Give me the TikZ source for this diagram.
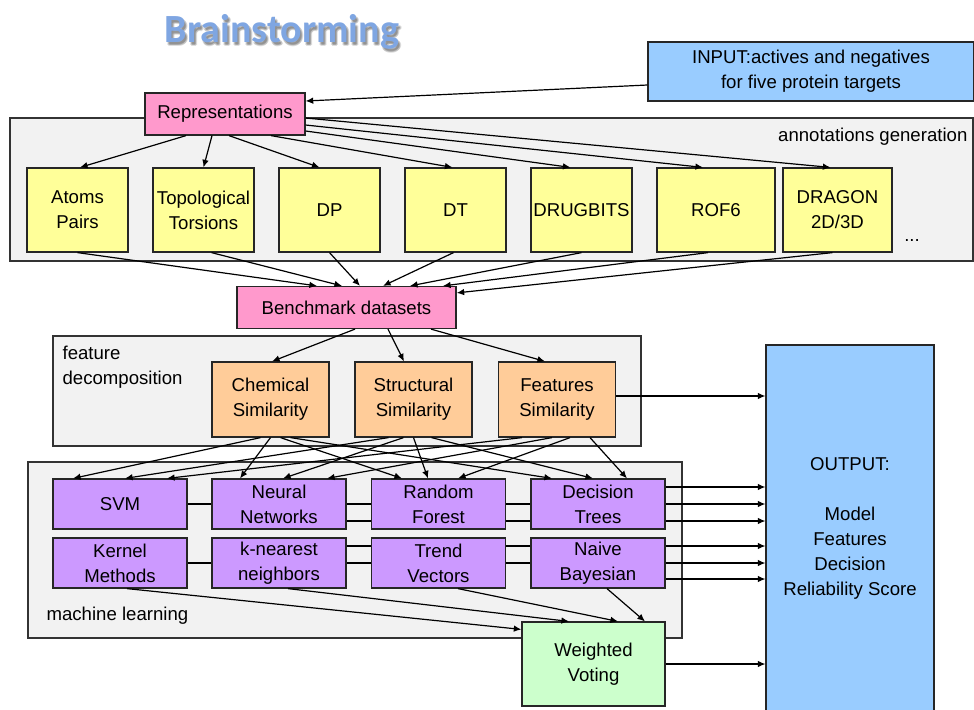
\documentclass[tikz,border=0pt]{standalone}
\usepackage{fontspec}
\setmainfont{Liberation Sans}
\newfontfamily\titlefont{Carlito}
\usepackage{tikz}
\usetikzlibrary{
    arrows.meta,
    positioning,
    calc,
    backgrounds
}
\definecolor{pinkbox}{HTML}{FF99CC}
\definecolor{bluebox}{HTML}{99CCFF}
\definecolor{yellowbox}{HTML}{FFFF99}
\definecolor{orangebox}{HTML}{FFCC99}
\definecolor{purplebox}{HTML}{CC99FF}
\definecolor{greenbox}{HTML}{CCFFCC}
\definecolor{panelgray}{HTML}{F2F2F2}
\definecolor{titleblue}{HTML}{7FA6E2}
\pgfdeclarelayer{wires}
\pgfsetlayers{background,wires,main}

\begin{document}
\begin{tikzpicture}[x=0.5pt,y=-0.5pt,
   every node/.style={font=\fontsize{9.3}{12.5}\selectfont,inner sep=0pt},
   blk/.style={draw=black!85,line width=0.6pt,align=center},
   panel/.style={draw=black!80,line width=0.6pt,fill=panelgray},
   yel/.style={blk,fill=yellowbox,minimum width=50.5pt,minimum height=42pt},
   orn/.style={blk,fill=orangebox,minimum width=58.5pt,minimum height=37.5pt},
   ml/.style={blk,fill=purplebox,minimum width=67pt,minimum height=25pt},
   arr/.style={-{Latex[length=3.8pt,width=3.3pt]}},
   every path/.style={line width=0.6pt}]
  \useasboundingbox (0,0) rectangle (974,709);
  % title with soft shadow
  \foreach \dx/\dy in {1/3,2/4,3/3,2/2}
    \node[font=\titlefont\bfseries\fontsize{20}{24}\selectfont,text=black,opacity=0.13]
      (shd-\dx-\dy) at (282+\dx,32+\dy) {Brainstorming};
  \node[font=\titlefont\bfseries\fontsize{20}{24}\selectfont,text=titleblue](title) at (282,32){Brainstorming};
  % panels
  \begin{scope}[on background layer]
    \node[panel,minimum width=481.5pt,minimum height=71.5pt](annp) at (491.5,189.5){};
    \node[panel,minimum width=294pt,minimum height=55pt](featp) at (347,391){};
    \node[panel,minimum width=327pt,minimum height=88pt](mlp) at (355,550){};
  \end{scope}
  \node[anchor=east](anntxt) at (968,137){annotations generation};
  \node[anchor=west,align=left](fdtxt) at (62,367.5){feature\\decomposition};
  \node[anchor=west](mltxt) at (46,616){machine learning};
  % input and representations
  \node[blk,fill=bluebox,minimum width=163pt,minimum height=29.5pt](inp) at (811,71.5){INPUT:actives and negatives\\for five protein targets};
  \node[blk,fill=pinkbox,minimum width=80pt,minimum height=21pt](rep) at (225,114){Representations};
  % annotations
  \node[yel](atoms) at (77.5,210){Atoms\\Pairs};
  \node[yel](topo) at (203.5,210){Topological\\Torsions};
  \node[yel](dp) at (329.5,210){DP};
  \node[yel](dt) at (455.5,210){DT};
  \node[yel](drug) at (581.5,210){DRUGBITS};
  \node[yel,minimum width=59pt](rof) at (716,210){ROF6};
  \node[yel,minimum width=54.5pt](dragon) at (837.5,210){DRAGON\\2D/3D};
  \node(more) at (912,240){...};
  \node[blk,fill=pinkbox,minimum width=109.5pt,minimum height=21pt](bench) at (346.5,307.5){Benchmark datasets};
  % feature decomposition
  \node[orn](chem) at (270.5,399.5){Chemical\\Similarity};
  \node[orn](struc) at (413.5,399.5){Structural\\Similarity};
  \node[orn](feat) at (557,399.5){Features\\Similarity};
  % machine learning
  \node[ml](svm) at (120,504){SVM};        \node[ml](nn) at (279,504){Neural\\Networks};
  \node[ml](rf) at (438.5,504){Random\\Forest}; \node[ml](dec) at (598,504){Decision\\Trees};
  \node[ml](kern) at (120,563){Kernel\\Methods}; \node[ml](knn) at (279,563){k-nearest\\neighbors};
  \node[ml](trend) at (438.5,563){Trend\\Vectors}; \node[ml](nb) at (598,563){Naive\\Bayesian};
  \node[blk,fill=greenbox,minimum width=71.5pt,minimum height=42pt](wv) at (593.5,664){Weighted\\Voting};
  \node[blk,fill=bluebox,minimum width=84pt,minimum height=183.5pt](out) at (850,528.5)
    {OUTPUT:\\[12.5pt]Model\\Features\\Decision\\Reliability Score};
  % input -> representations -> annotations
  \draw[arr] ($(inp.west)+(0,13.5)$) -- ($(rep.east)+(0,-13)$);
  \draw[arr] ($(rep.south)+(-39,0)$) -- ($(atoms.north)+(2.5,0)$);
  \draw[arr] ($(rep.south)+(-13,0)$) -- (topo.north);
  \draw[arr] ($(rep.south)+(4,0)$) -- ($(dp.north)+(-10,0)$);
  \draw[arr] ($(rep.south)+(46,0)$) -- ($(dt.north)+(-3,0)$);
  \draw[arr] ($(rep.east)+(0,17)$) -- ($(drug.north)+(-11,0)$);
  \draw[arr] ($(rep.east)+(0,11)$) -- ($(rof.north)+(-13,0)$);
  \draw[arr] ($(rep.east)+(0,4)$) -- ($(dragon.north)+(-7,0)$);
  % annotations -> benchmark
  \draw[arr] (atoms.south) -- ($(bench.north)+(-29.5,0)$);
  \draw[arr] ($(topo.south)+(8,0)$) -- ($(bench.north)+(-4.5,0)$);
  \draw[arr] (dp.south) -- ($(bench.north)+(13.5,0)$);
  \draw[arr] ($(dt.south)+(-2,0)$) -- ($(bench.north)+(36.5,0)$);
  \draw[arr] (drug.south) -- ($(bench.north)+(63.5,0)$);
  \draw[arr] ($(rof.south)+(-8,0)$) -- ($(bench.north)+(96.5,0)$);
  \draw[arr] ($(dragon.south)+(-5,0)$) -- ($(bench.north east)+(0,7)$);
  % benchmark -> similarities
  \draw[arr] ($(bench.south)+(8.5,0)$) -- ($(chem.north)+(1.5,0)$);
  \draw[arr] ($(bench.south)+(41.5,0)$) -- ($(struc.north)+(-9.5,0)$);
  \draw[arr] ($(bench.south)+(84.5,0)$) -- ($(feat.north)+(-12,0)$);
  % similarities -> learners
  \draw[arr] ($(chem.south)+(-10,0)$) -- ($(svm.north)+(-47,0)$);
  \draw[arr] (chem.south) -- ($(nn.north)+(-39,0)$);
  \draw[arr] ($(chem.south)+(10,0)$) -- ($(rf.north)+(-36.5,0)$);
  \draw[arr] ($(chem.south)+(20,0)$) -- ($(dec.north)+(-46,0)$);
  \draw[arr] ($(struc.south)+(-25,0)$) -- ($(svm.north)+(5,0)$);
  \draw[arr] ($(struc.south)+(-10,0)$) -- ($(nn.north)+(4,0)$);
  \draw[arr] (struc.south) -- ($(rf.north)+(-10.5,0)$);
  \draw[arr] ($(struc.south)+(18,0)$) -- ($(dec.north)+(-5,0)$);
  \draw[arr] ($(feat.south)+(-35,0)$) -- ($(svm.north)+(47,0)$);
  \draw[arr] ($(feat.south)+(-5,0)$) -- ($(nn.north)+(48,0)$);
  \draw[arr] ($(feat.south)+(13,0)$) -- ($(rf.north)+(19.5,0)$);
  \draw[arr] ($(feat.south)+(33,0)$) -- ($(dec.north)+(29,0)$);
  % learners -> weighted voting
  \draw[arr] ($(kern.south)+(7,0)$) -- ($(wv.north west)+(0,8)$);
  \draw[arr] ($(knn.south)+(9,0)$) -- ($(wv.north)+(-24.5,0)$);
  \draw[arr] ($(trend.south)+(19.5,0)$) -- ($(wv.north)+(24.5,0)$);
  \draw[arr] ($(nb.south)+(9,0)$) -- ($(wv.north)+(51.5,0)$);
  % everything -> output
  \coordinate (ftA) at ($(feat.east)+(0,-3.5)$);
  \coordinate (decA) at ($(dec.east)+(0,-17)$);
  \coordinate (nnA) at ($(nn.east)+(0,17)$);
  \coordinate (knnA) at ($(knn.east)+(0,-17)$);
  \coordinate (nbA) at ($(nb.east)+(0,16)$);
  \draw[arr] (ftA) -- (ftA -| out.west);
  \begin{pgfonlayer}{wires}
    \draw[arr] (decA) -- (decA -| out.west);
    \draw[arr] (svm.east) -- (svm.east -| out.west);
    \draw[arr] (nnA) -- (nnA -| out.west);
    \draw[arr] (knnA) -- (knnA -| out.west);
    \draw[arr] (kern.east) -- (kern.east -| out.west);
    \draw[arr] (nbA) -- (nbA -| out.west);
  \end{pgfonlayer}
  \draw[arr] (wv.east) -- (wv.east -| out.west);
\end{tikzpicture}
\end{document}
